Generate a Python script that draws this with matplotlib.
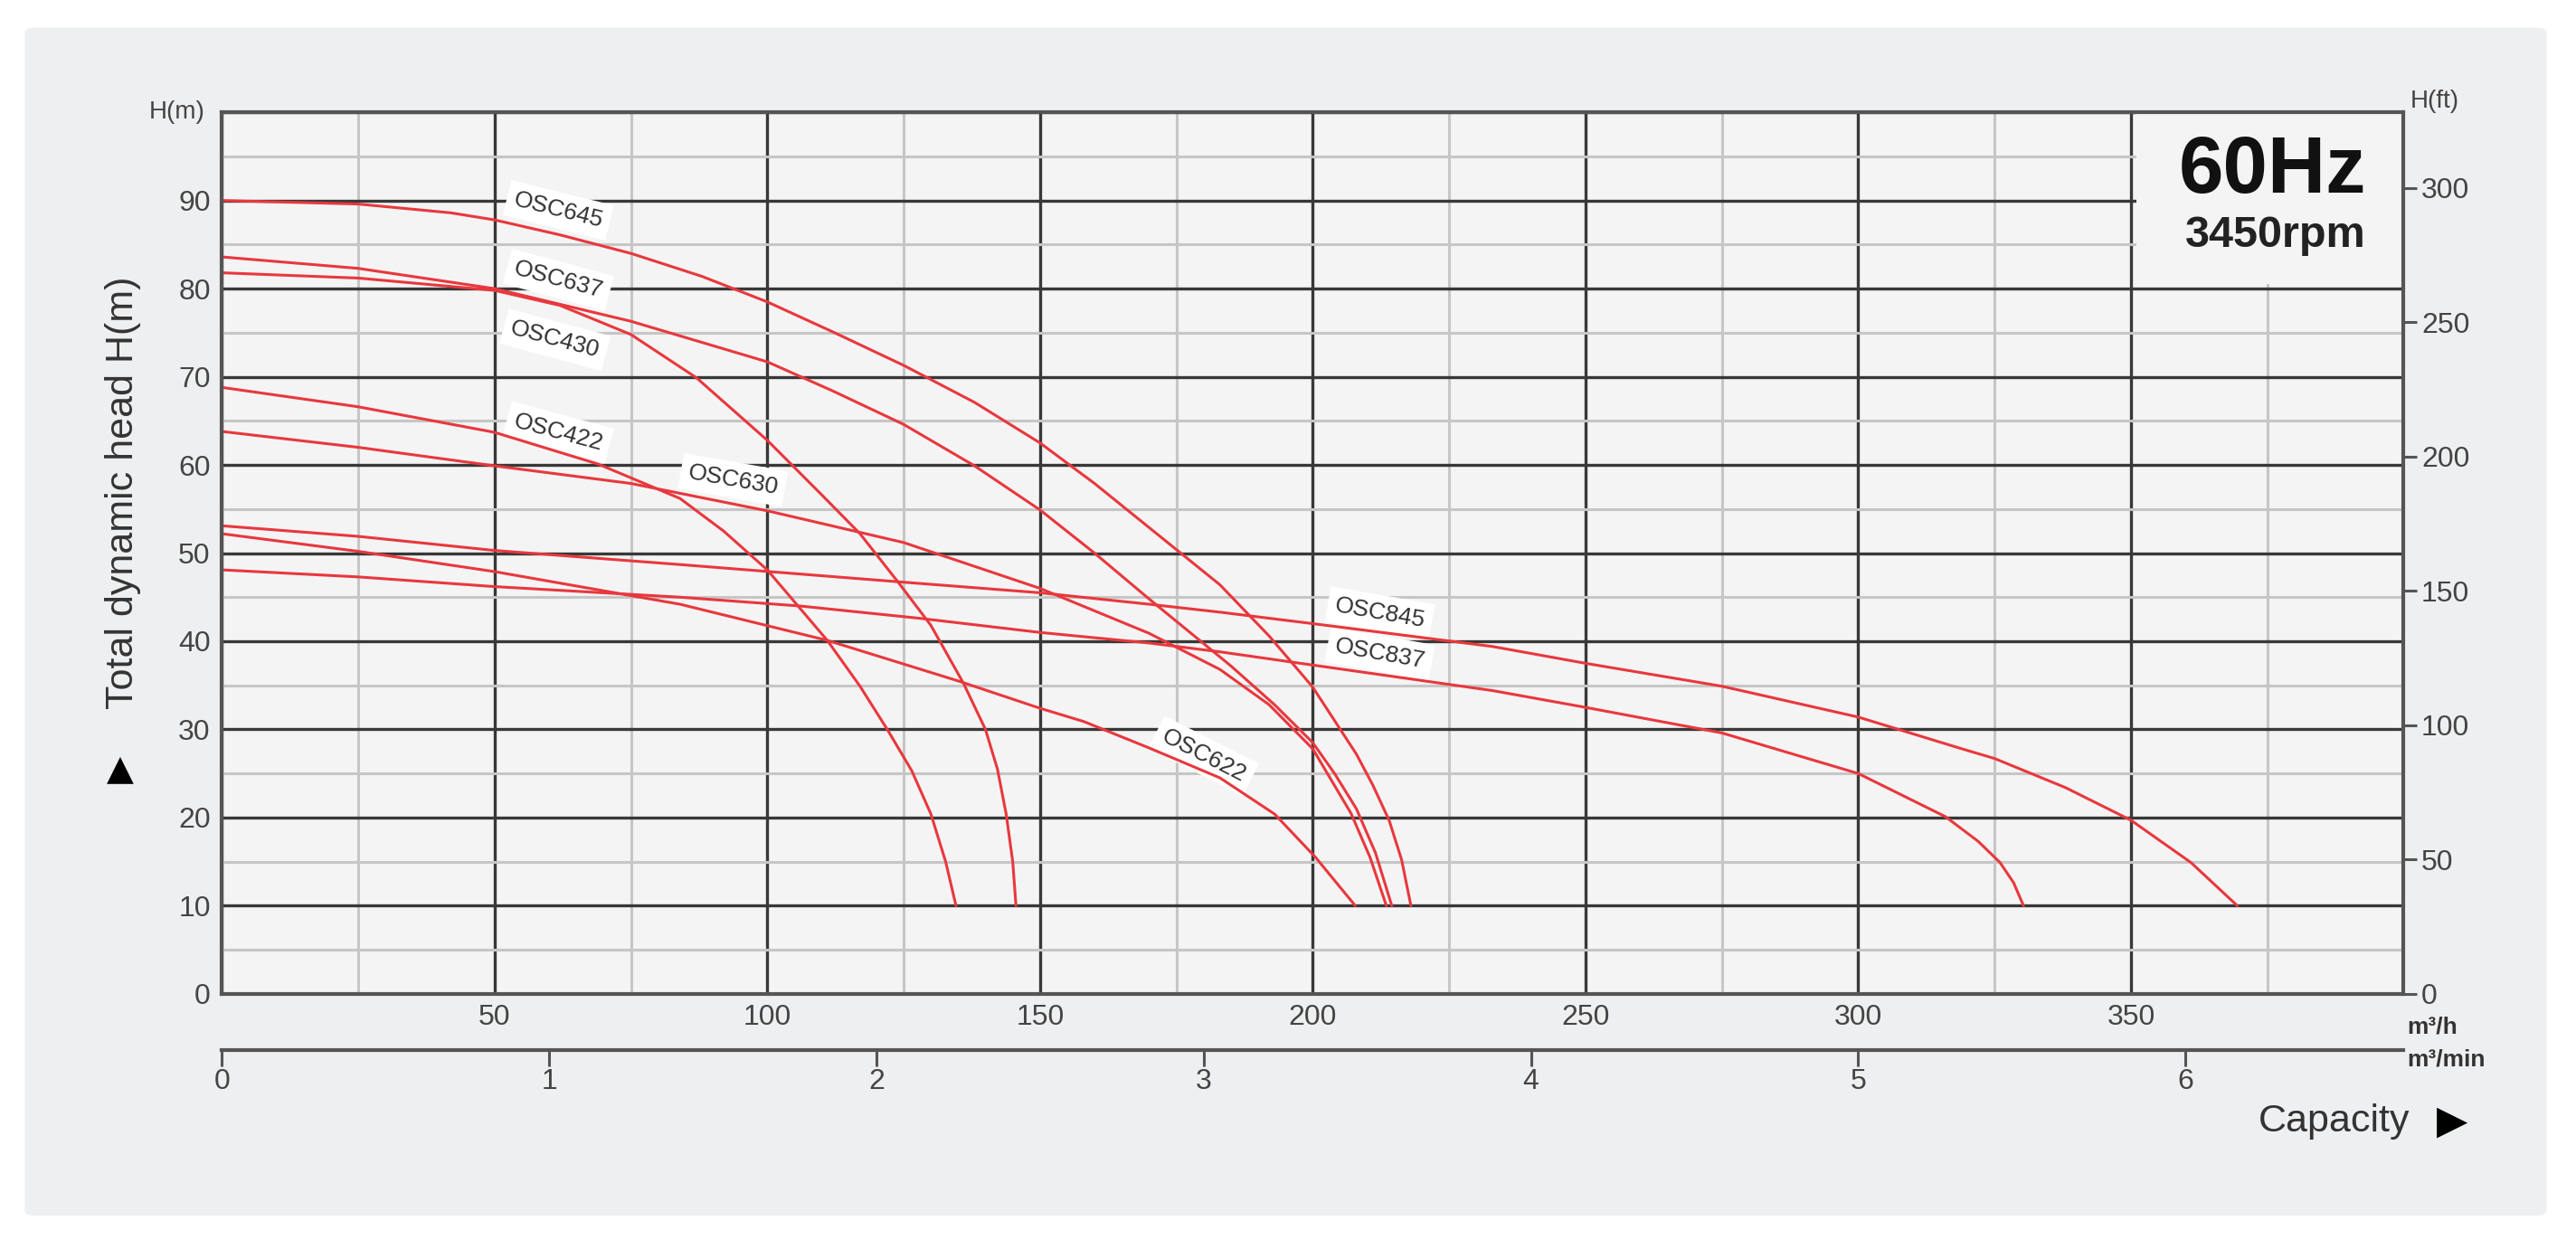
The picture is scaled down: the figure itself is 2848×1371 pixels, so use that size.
"""Pump performance curves, OSC series, 60 Hz / 3450 rpm."""
import matplotlib.pyplot as plt
import numpy as np
from matplotlib.patches import FancyBboxPatch, Rectangle

# ---- data (Q in m3/h, H in m)
q_645 = [0, 25, 42, 50, 62, 75, 88, 100, 112, 125, 138, 150, 160, 170, 183, 192, 200, 208, 211, 214, 216.3, 218]
h_645 = [90, 89.6, 88.6, 87.8, 86.1, 84, 81.4, 78.5, 75.1, 71.3, 67.1, 62.5, 57.9, 52.9, 46.4, 40.6, 34.8, 27.2, 23.7, 19.7, 15.2, 10]

q_637 = [0, 25, 50, 75, 100, 112, 125, 138, 150, 160, 170, 185, 193, 200, 204, 208, 211.5, 214.5]
h_637 = [83.6, 82.3, 80, 76.3, 71.7, 68.4, 64.6, 59.9, 54.9, 50, 44.8, 37.2, 32.8, 28.5, 25, 21, 16, 10]

q_430 = [0, 25, 50, 62, 75, 87, 100, 110, 117, 124, 130, 136, 140, 142.2, 143.8, 145, 145.6]
h_430 = [81.8, 81.2, 79.8, 78.1, 74.8, 69.9, 62.8, 56.6, 52.2, 46.7, 41.8, 35.2, 30, 25.5, 20.4, 15, 10]

q_422 = [0, 25, 50, 69, 84, 92, 100, 111, 117, 122, 126.5, 130, 132.7, 134.6]
h_422 = [68.8, 66.6, 63.7, 60.1, 56.2, 52.5, 48.1, 40.1, 34.9, 30, 25.3, 20.4, 15, 10]

q_630 = [0, 25, 50, 75, 100, 125, 150, 170, 183, 192, 200, 207, 210.5, 213.5]
h_630 = [63.8, 62, 59.9, 57.9, 54.8, 51.2, 46, 40.9, 36.8, 32.8, 27.8, 20.5, 15.5, 10]

q_845 = [0, 25, 50, 84, 125, 150, 170, 183, 200, 233, 250, 275, 300, 319, 325, 338, 350, 361, 369.5]
h_845 = [53.1, 51.9, 50.3, 48.7, 46.7, 45.5, 44.2, 43.3, 42, 39.4, 37.5, 34.9, 31.4, 27.8, 26.7, 23.4, 19.7, 14.9, 10]

q_837 = [0, 25, 50, 84, 106, 128, 150, 170, 183, 200, 233, 250, 275, 300, 316, 322, 326, 328.5, 330.3]
h_837 = [48.1, 47.3, 46.2, 45, 44, 42.6, 41, 39.8, 38.8, 37.3, 34.4, 32.5, 29.6, 25, 20.1, 17.3, 14.9, 12.6, 10]

q_622 = [0, 25, 50, 84, 111, 135, 150, 158, 170, 183, 193, 200.5, 207.8]
h_622 = [52.2, 50.2, 47.9, 44.2, 40.1, 35.5, 32.4, 30.9, 27.9, 24.5, 20.4, 15.5, 10]

curves = [
    ("OSC645", q_645, h_645), ("OSC637", q_637, h_637), ("OSC430", q_430, h_430),
    ("OSC422", q_422, h_422), ("OSC630", q_630, h_630), ("OSC845", q_845, h_845),
    ("OSC837", q_837, h_837), ("OSC622", q_622, h_622),
]

# label anchors (Q, H, rotation)
labels = {
    "OSC645": (61.7, 88.9, -14), "OSC637": (61.7, 81.0, -15),
    "OSC430": (61.1, 74.2, -15), "OSC422": (61.7, 63.7, -15),
    "OSC630": (93.7, 58.3, -10), "OSC845": (212.3, 43.2, -10),
    "OSC837": (212.3, 38.6, -10), "OSC622": (180.0, 27.0, -27),
}

RED = "#e8383d"
TXT = "#444444"
NARROW = ["Liberation Sans Narrow", "Liberation Sans", "DejaVu Sans"]
SANS = ["Liberation Sans", "DejaVu Sans"]

fig = plt.figure(figsize=(28.48, 13.71), dpi=100)
fig.patch.set_facecolor("white")
fig.patches.append(FancyBboxPatch((0.0096, 0.0197), 0.979, 0.958,
                                  boxstyle="round,pad=0,rounding_size=0.004",
                                  transform=fig.transFigure, fc="#eeeff0",
                                  ec="none", zorder=-5))

ax = fig.add_axes([0.0861, 0.1985, 0.8470, 0.7109])
ax.set_facecolor("#f4f4f5")
ax.set_xlim(0, 400)
ax.set_ylim(0, 100)

ax.set_xticks(np.arange(0, 401, 50))
ax.set_xticklabels([""] + [str(v) for v in range(50, 351, 50)] + [""])
ax.set_xticks(np.arange(25, 400, 50), minor=True)
ax.set_yticks(np.arange(0, 101, 10))
ax.set_yticklabels([str(v) for v in range(0, 91, 10)] + [""])
ax.set_yticks(np.arange(5, 100, 10), minor=True)
ax.set_axisbelow(True)
ax.grid(which="major", color="#383838", lw=2.4)
ax.grid(which="minor", color="#c6c6c6", lw=2.2)
ax.tick_params(which="both", length=0, labelsize=23, colors=TXT)
ax.tick_params(axis="x", pad=8)
ax.tick_params(axis="y", pad=9)
for lab in ax.get_xticklabels() + ax.get_yticklabels():
    lab.set_family(NARROW)
for s in ax.spines.values():
    s.set_color("#555555"); s.set_linewidth(3)

# blank box behind the 60Hz caption
ax.add_patch(Rectangle((351, 80.5), 49, 19.5, fc="#f4f4f5", ec="none", zorder=1))
ax.text(375.9, 93.2, "60Hz", ha="center", va="center", fontsize=64,
        fontweight="bold", family=SANS, color="#111111", zorder=3)
ax.text(376.5, 86.0, "3450rpm", ha="center", va="center", fontsize=35,
        fontweight="bold", family=SANS, color="#222222", zorder=3)

for name, q, h in curves:
    ax.plot(q, h, color=RED, lw=2.2, solid_capstyle="round",
            solid_joinstyle="round", zorder=2)
    x, y, rot = labels[name]
    ax.text(x, y, name, rotation=rot, ha="center", va="center", fontsize=19,
            family=NARROW, color="#333333", zorder=1.5, rotation_mode="anchor",
            bbox=dict(boxstyle="square,pad=0.3", fc="white", ec="none"))

# right axis in feet
ax2 = ax.twinx()
ax2.set_ylim(0, 100 / 0.3048)
ax2.set_yticks(np.arange(0, 301, 50))
ax2.tick_params(axis="y", length=11, width=2.2, colors="#555555",
                labelsize=23, labelcolor=TXT, pad=3)
for lab in ax2.get_yticklabels():
    lab.set_family(NARROW)
for s in ax2.spines.values():
    s.set_visible(False)

# second capacity scale in m3/min
sec = ax.secondary_xaxis("bottom", functions=(lambda v: v / 60, lambda v: v * 60))
sec.spines["bottom"].set_position(("outward", 45))
sec.spines["bottom"].set_color("#555555")
sec.spines["bottom"].set_linewidth(3)
sec.set_xticks(range(7))
sec.tick_params(direction="out", length=13, width=2.2, colors="#555555",
                labelsize=23, labelcolor=TXT, pad=1)
for lab in sec.get_xticklabels():
    lab.set_family(NARROW)

ax.text(-0.0075, 1.0, "H(m)", transform=ax.transAxes, ha="right", va="center",
        fontsize=20, family=NARROW, color=TXT)
ax.text(1.003, 1.013, "H(ft)", transform=ax.transAxes, ha="left", va="center",
        fontsize=20, family=NARROW, color=TXT)

fig.text(0.9345, 0.172, "m³/h", ha="left", va="center", fontsize=19,
         fontweight="bold", family=NARROW, color="#333333")
fig.text(0.9345, 0.1455, "m³/min", ha="left", va="center", fontsize=19,
         fontweight="bold", family=NARROW, color="#333333")

fig.text(0.0478, 0.6026, "Total dynamic head H(m)", rotation=90, ha="center",
         va="center", fontsize=31, family=SANS, color="#333333")
fig.text(0.0466, 0.380, "▲", ha="center", va="center", fontsize=28,
         family="DejaVu Sans", color="black")
fig.text(0.9355, 0.0952, "Capacity", ha="right", va="center", fontsize=31,
         family=SANS, color="#333333")
fig.text(0.952, 0.0952, "▶", ha="center", va="center", fontsize=32,
         family="DejaVu Sans", color="black")

fig.savefig("out.png", dpi=100, facecolor="white")
